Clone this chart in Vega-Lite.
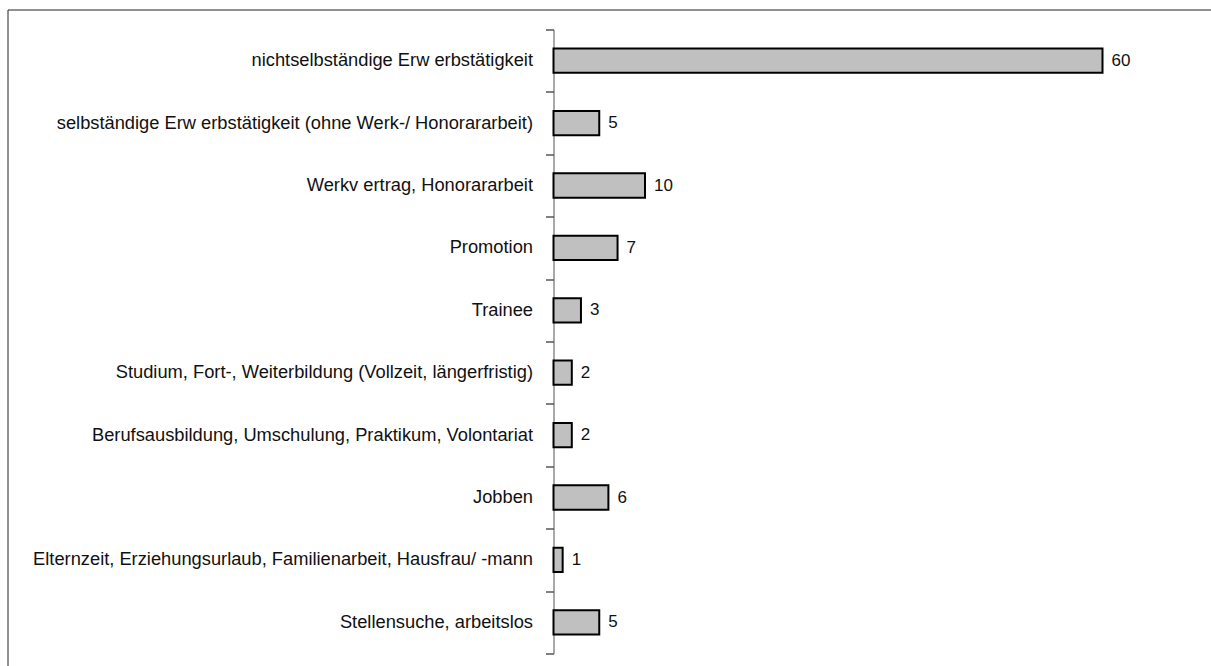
{
  "$schema": "https://vega.github.io/schema/vega-lite/v6.json",
  "width": 1206,
  "height": 659,
  "autosize": {"type": "none"},
  "padding": {"left": 7.5, "top": 9.5, "right": 0, "bottom": 0},
  "background": "white",
  "config": {
    "view": {"stroke": "#222222", "strokeWidth": 1},
    "font": "Liberation Sans"
  },
  "data": {
    "values": [
      {"kategorie": "nichtselbständige Erw erbstätigkeit", "wert": 60},
      {"kategorie": "selbständige Erw erbstätigkeit (ohne Werk-/ Honorararbeit)", "wert": 5},
      {"kategorie": "Werkv ertrag, Honorararbeit", "wert": 10},
      {"kategorie": "Promotion", "wert": 7},
      {"kategorie": "Trainee", "wert": 3},
      {"kategorie": "Studium, Fort-, Weiterbildung (Vollzeit, längerfristig)", "wert": 2},
      {"kategorie": "Berufsausbildung, Umschulung, Praktikum, Volontariat", "wert": 2},
      {"kategorie": "Jobben", "wert": 6},
      {"kategorie": "Elternzeit, Erziehungsurlaub, Familienarbeit, Hausfrau/ -mann", "wert": 1},
      {"kategorie": "Stellensuche, arbeitslos", "wert": 5}
    ]
  },
  "encoding": {
    "y": {
      "field": "kategorie",
      "type": "nominal",
      "sort": null,
      "scale": {"range": [20, 644], "paddingInner": 0, "paddingOuter": 0},
      "axis": {
        "title": null,
        "orient": "left",
        "offset": -546,
        "tickBand": "extent",
        "tickSize": 8,
        "tickColor": "#000000",
        "domainColor": "#555555",
        "labelPadding": 13,
        "labelLimit": 0,
        "labelFont": "Liberation Sans",
        "labelFontSize": 18.3,
        "labelColor": "#111111",
        "grid": false
      }
    },
    "x": {
      "field": "wert",
      "type": "quantitative",
      "scale": {"domain": [0, 60], "range": [546, 1095], "nice": false, "zero": true},
      "axis": null
    }
  },
  "layer": [
    {
      "mark": {"type": "bar", "fill": "#c0c0c0", "stroke": "#000000", "strokeWidth": 2, "height": {"band": 0.39}}
    },
    {
      "mark": {"type": "text", "align": "left", "baseline": "middle", "dx": 9, "font": "Liberation Sans", "fontSize": 17, "color": "#111111"},
      "encoding": {"text": {"field": "wert", "type": "quantitative"}}
    }
  ]
}
